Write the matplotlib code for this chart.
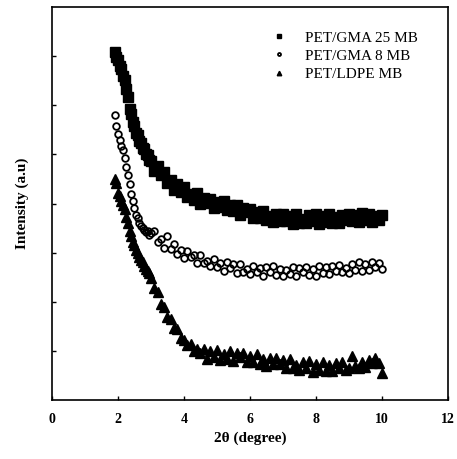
import matplotlib
matplotlib.use("Agg")
import matplotlib.pyplot as plt

x = [1.90, 1.95, 2.00, 2.05, 2.10, 2.15, 2.20, 2.25, 2.30, 2.35, 2.40, 2.45,
     2.50, 2.55, 2.60, 2.65, 2.70, 2.75, 2.80, 2.85, 2.90, 2.95,
     3.0, 3.1, 3.2, 3.3, 3.4, 3.5, 3.6, 3.7, 3.8, 3.9,
     4.0, 4.1, 4.2, 4.3, 4.4, 4.5, 4.6, 4.7, 4.8, 4.9,
     5.0, 5.1, 5.2, 5.3, 5.4, 5.5, 5.6, 5.7, 5.8, 5.9,
     6.0, 6.1, 6.2, 6.3, 6.4, 6.5, 6.6, 6.7, 6.8, 6.9,
     7.0, 7.1, 7.2, 7.3, 7.4, 7.5, 7.6, 7.7, 7.8, 7.9,
     8.0, 8.1, 8.2, 8.3, 8.4, 8.5, 8.6, 8.7, 8.8, 8.9,
     9.0, 9.1, 9.2, 9.3, 9.4, 9.5, 9.6, 9.7, 9.8, 9.9, 10.0]

gma25 = [7.08, 6.98, 6.93, 6.80, 6.74, 6.60, 6.52, 6.33, 6.17, 5.93, 5.82, 5.66,
         5.57, 5.43, 5.39, 5.27, 5.24, 5.13, 5.10, 5.00, 4.98, 4.88,
         4.87, 4.67, 4.76, 4.58, 4.65, 4.42, 4.47, 4.28, 4.40, 4.24,
         4.34, 4.13, 4.19, 4.08, 4.21, 3.99, 4.11, 4.02, 4.10, 3.90,
         4.04, 3.92, 4.05, 3.86, 3.96, 3.85, 3.98, 3.77, 3.91, 3.82,
         3.89, 3.71, 3.82, 3.71, 3.85, 3.66, 3.75, 3.62, 3.78, 3.65,
         3.79, 3.65, 3.74, 3.59, 3.78, 3.61, 3.69, 3.60, 3.76, 3.64,
         3.78, 3.59, 3.74, 3.63, 3.78, 3.61, 3.72, 3.60, 3.76, 3.67,
         3.79, 3.65, 3.76, 3.62, 3.80, 3.67, 3.78, 3.63, 3.74, 3.66, 3.77]

gma8 = [5.80, 5.58, 5.42, 5.30, 5.17, 5.08, 4.93, 4.75, 4.58, 4.40, 4.20, 4.05,
        3.90, 3.76, 3.70, 3.60, 3.55, 3.50, 3.46, 3.42, 3.44, 3.36,
        3.40, 3.44, 3.21, 3.27, 3.09, 3.33, 3.07, 3.17, 2.97, 3.06,
        2.89, 3.03, 2.91, 2.96, 2.78, 2.95, 2.79, 2.84, 2.72, 2.88,
        2.70, 2.79, 2.63, 2.80, 2.68, 2.76, 2.59, 2.77, 2.60, 2.67,
        2.56, 2.73, 2.60, 2.69, 2.53, 2.71, 2.61, 2.72, 2.55, 2.67,
        2.53, 2.65, 2.56, 2.71, 2.52, 2.69, 2.61, 2.70, 2.54, 2.66,
        2.53, 2.73, 2.59, 2.70, 2.56, 2.73, 2.63, 2.75, 2.60, 2.69,
        2.58, 2.76, 2.65, 2.80, 2.62, 2.76, 2.65, 2.80, 2.70, 2.78, 2.67]

ldpe = [4.50, 4.42, 4.22, 4.15, 4.06, 3.97, 3.88, 3.72, 3.60, 3.45, 3.34, 3.22,
        3.16, 3.06, 3.00, 2.92, 2.86, 2.80, 2.72, 2.66, 2.62, 2.58,
        2.49, 2.28, 2.19, 1.96, 1.89, 1.69, 1.65, 1.47, 1.44, 1.26,
        1.23, 1.12, 1.15, 1.00, 1.04, 0.96, 1.04, 0.84, 0.99, 0.88,
        1.01, 0.82, 0.93, 0.83, 0.99, 0.80, 0.95, 0.87, 0.95, 0.77,
        0.89, 0.78, 0.93, 0.74, 0.83, 0.70, 0.86, 0.73, 0.86, 0.73,
        0.81, 0.65, 0.83, 0.65, 0.72, 0.62, 0.78, 0.65, 0.79, 0.58,
        0.73, 0.62, 0.77, 0.60, 0.71, 0.59, 0.75, 0.66, 0.78, 0.61,
        0.66, 0.90, 0.70, 0.65, 0.78, 0.67, 0.81, 0.75, 0.85, 0.76, 0.55]

labels = ["PET/GMA 25 MB", "PET/GMA 8 MB", "PET/LDPE MB"]
xticks = [0, 2, 4, 6, 8, 10, 12]
yticks = [1, 2, 3, 4, 5, 6, 7]

plt.rcParams['font.family'] = ['Liberation Serif', 'DejaVu Serif']

fig = plt.figure(figsize=(4.57, 4.59), dpi=100)
ax = fig.add_axes([0.1138, 0.1285, 0.8662, 0.8562])

ax.plot(x, gma25, linestyle='none', marker='s', ms=6.5, mfc='black', mec='black',
        label=labels[0])
ax.plot(x, gma8, linestyle='none', marker='o', ms=4.8, mfc='none', mec='black',
        mew=1.3, label=labels[1])
ax.plot(x, ldpe, linestyle='none', marker='^', ms=7.2, mfc='black', mec='black',
        label=labels[2])

ax.set_xlim(0, 12)
ax.set_ylim(0, 8)
ax.set_xticks(xticks)
ax.set_xticklabels([str(t) for t in xticks], fontsize=10, fontweight='bold')
ax.set_yticks(yticks)
ax.set_yticklabels([])
ax.tick_params(axis='both', direction='in', length=3, width=1, top=False, right=False)
ax.tick_params(axis='x', pad=9)
for s in ax.spines.values():
    s.set_linewidth(1.2)

ax.set_xlabel("2θ (degree)", fontsize=11, fontweight='bold', labelpad=4)
ax.set_ylabel("Intensity (a.u)", fontsize=11, fontweight='bold', labelpad=13)

leg = ax.legend(loc='upper left', bbox_to_anchor=(0.53, 0.955), frameon=False,
                fontsize=11, markerscale=0.45, handlelength=1.5, handletextpad=0.9,
                labelspacing=0.3, borderaxespad=0)

fig.savefig("out.png", dpi=100)
